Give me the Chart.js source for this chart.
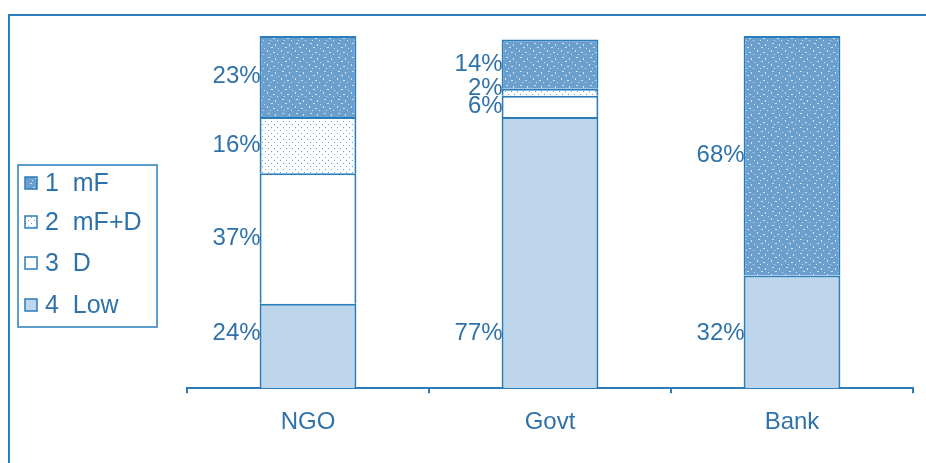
<!DOCTYPE html>
<html>
<head>
<meta charset="utf-8">
<script src="https://cdn.jsdelivr.net/npm/chart.js@4.4.1/dist/chart.umd.min.js"></script>
<style>
    html, body { margin: 0; padding: 0; background: #ffffff; }
    #wrap { position: relative; width: 926px; height: 463px; }
</style>
</head>
<body>
<div id="wrap"><canvas id="fundingChart" width="926" height="463"></canvas></div>
<script>
// categories and shares (percent) per funding source, bottom segment first
const categories = ['NGO', 'Govt', 'Bank'];
const lowShare = [24, 77, 32];
const dShare = [37, 6, 0];
const mfdShare = [16, 2, 0];
const mfShare = [23, 14, 68];
const seriesNames = ['4  Low', '3  D', '2  mF+D', '1  mF'];

const lineBlue = '#2a7cbb';
const textBlue = '#2f72aa';
const fontFamily = '"Liberation Sans", Arial, sans-serif';

// small repeating tiles for the hatched fills
function makeTile(size, bg, dots, dotColor) {
    const c = document.createElement('canvas');
    c.width = size; c.height = size;
    const g = c.getContext('2d');
    g.fillStyle = bg;
    g.fillRect(0, 0, size, size);
    g.fillStyle = dotColor;
    dots.forEach(function (d) { g.fillRect(d[0], d[1], d[2] || 1, d[3] || 1); });
    return g.createPattern(c, 'repeat');
}

const ctx = document.getElementById('fundingChart').getContext('2d');

const mfFill = makeTile(14, '#6a9fce',
    [[2, 1, 2, 1], [9, 2, 1, 2], [5, 5, 2, 1], [12, 6, 1, 1], [1, 8, 1, 2], [7, 10, 2, 1], [11, 12, 1, 1], [4, 12, 1, 1]],
    'rgba(225,238,250,0.85)');
const mfdFill = makeTile(6, '#ffffff', [[1, 1, 1, 1], [4, 4, 1, 1]], '#6ea2cf');
const lowFill = '#bdd6ec';
const dFill = '#ffffff';

const fills = [lowFill, dFill, mfdFill, mfFill];
const values = [lowShare, dShare, mfdShare, mfShare];

const datasets = values.map(function (v, i) {
    return {
        label: seriesNames[i],
        data: v,
        backgroundColor: fills[i],
        borderColor: lineBlue,
        borderWidth: { top: 2, bottom: 0, left: 2, right: 2 },
        borderSkipped: false,
        barPercentage: 0.4,
        categoryPercentage: 1.0
    };
});

// outer frame, legend box and percentage labels
const decorations = {
    id: 'decorations',
    beforeDraw: function (chart) {
        const g = chart.ctx;
        g.save();
        g.strokeStyle = lineBlue;
        g.lineWidth = 2;
        g.beginPath();
        g.moveTo(9, 463);
        g.lineTo(9, 15);
        g.lineTo(926, 15);
        g.stroke();
        g.restore();
    },
    afterDatasetsDraw: function (chart) {
        const g = chart.ctx;
        const y = chart.scales.y;
        g.save();
        g.font = '24px ' + fontFamily;
        g.fillStyle = textBlue;
        g.textAlign = 'right';
        g.textBaseline = 'middle';
        const minGap = 18;
        categories.forEach(function (cat, bi) {
            // walk up the stack, pushing labels apart when segments are thin
            let prevY = null;
            chart.data.datasets.forEach(function (ds, di) {
                const v = ds.data[bi];
                if (!v) return;
                const bar = chart.getDatasetMeta(di).data[bi];
                const left = bar.x - bar.width / 2;
                let ty = (bar.y + bar.base) / 2;
                if (di === 0) ty = y.getPixelForValue(0) - 55;
                if (prevY !== null && ty > prevY - minGap) ty = prevY - minGap;
                g.fillText(v + '%', left + 1, ty);
                prevY = ty;
            });
        });
        g.restore();

        // legend box, top entry is the top segment
        g.save();
        g.strokeStyle = lineBlue;
        g.lineWidth = 1.5;
        g.strokeRect(18, 165, 139, 162);
        g.font = '25px ' + fontFamily;
        g.textAlign = 'left';
        g.textBaseline = 'middle';
        const rows = [183, 222, 263, 305];
        for (let k = 0; k < 4; k++) {
            const ds = chart.data.datasets[3 - k];
            g.fillStyle = ds.backgroundColor;
            g.fillRect(25, rows[k] - 6, 12, 12);
            g.strokeStyle = lineBlue;
            g.lineWidth = 1.5;
            g.strokeRect(25, rows[k] - 6, 12, 12);
            g.fillStyle = textBlue;
            g.fillText(ds.label, 45, rows[k] + 1);
        }
        g.restore();
    }
};

new Chart(ctx, {
    type: 'bar',
    data: {
        labels: categories,
        datasets: datasets
    },
    options: {
        responsive: false,
        animation: false,
        layout: {
            padding: { left: 187, right: 13, top: 36, bottom: 11 }
        },
        scales: {
            x: {
                stacked: true,
                grid: {
                    offset: true,
                    drawOnChartArea: false,
                    drawTicks: true,
                    tickLength: 5,
                    color: lineBlue,
                    lineWidth: 2
                },
                border: { display: true, color: lineBlue, width: 2 },
                ticks: {
                    color: textBlue,
                    padding: 15,
                    font: { family: fontFamily, size: 24 }
                }
            },
            y: {
                stacked: true,
                display: false,
                min: 0,
                max: 100
            }
        },
        plugins: {
            legend: { display: false },
            tooltip: { enabled: false }
        }
    },
    plugins: [decorations]
});
</script>
</body>
</html>
